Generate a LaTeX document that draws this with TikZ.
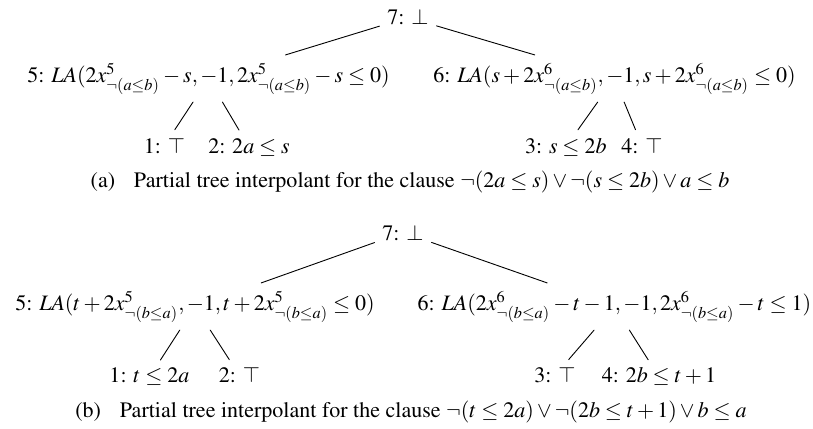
\documentclass[tikz,border=0pt]{standalone}
\usepackage[T1]{fontenc}
\usepackage{mathptmx}
\usepackage{amsmath}
\usepackage{xcolor}
\usepackage{tikz}
\usetikzlibrary{positioning}
\definecolor{tiInk}{HTML}{000000}
\tikzset{
  ti diagram/.style={font=\fontsize{9.75}{12}\selectfont, text=tiInk,
    line cap=round},
  ti node/.style={anchor=base, inner sep=3.33pt},
  ti edge/.style={draw=tiInk, line width=0.4pt},
  ti caption/.style={anchor=base, inner sep=0pt}
}
\newcommand{\tiLA}{\mathit{LA}}

\begin{document}
\begin{tikzpicture}[ti diagram]
\useasboundingbox (0,0) rectangle (12.645,6.657);
% tree (a)
\node[ti node] (a7) at (6.346,6.268) {7: $\bot$};
\node[ti node] (a5) at (3.243,5.381)
  {5: $\tiLA(2x^5_{\neg(a\leq b)}-s,-1,2x^5_{\neg(a\leq b)}-s\leq 0)$};
\node[ti node] (a6) at (9.557,5.381)
  {6: $\tiLA(s+2x^6_{\neg(a\leq b)},-1,s+2x^6_{\neg(a\leq b)}\leq 0)$};
\node[ti node] (a1) at (2.558,4.277) {1: $\top$};
\node[ti node] (a2) at (3.873,4.277) {2: $2a\leq s$};
\node[ti node] (a3) at (8.800,4.277) {3: $s\leq 2b$};
\node[ti node] (a4) at (9.985,4.277) {4: $\top$};
\foreach \p/\c in {a7/a5,a7/a6,a5/a1,a5/a2,a6/a3,a6/a4}
  \draw[ti edge] (\p) -- (\c);
\node[ti caption] (capa) at (6.377,3.733)
  {(a)\hspace{0.85em}Partial tree interpolant for the clause
   $\neg(2a\leq s)\vee\neg(s\leq 2b)\vee a\leq b$};
% tree (b)
\node[ti node] (b7) at (6.268,2.924) {7: $\bot$};
\node[ti node] (b5) at (3.033,1.835)
  {5: $\tiLA(t+2x^5_{\neg(b\leq a)},-1,t+2x^5_{\neg(b\leq a)}\leq 0)$};
\node[ti node] (b6) at (9.557,1.835)
  {6: $\tiLA(2x^6_{\neg(b\leq a)}-t-1,-1,2x^6_{\neg(b\leq a)}-t\leq 1)$};
\node[ti node] (b1) at (2.325,0.700) {1: $t\leq 2a$};
\node[ti node] (b2) at (3.725,0.700) {2: $\top$};
\node[ti node] (b3) at (8.632,0.700) {3: $\top$};
\node[ti node] (b4) at (10.249,0.700) {4: $2b\leq t+1$};
\foreach \p/\c in {b7/b5,b7/b6,b5/b1,b5/b2,b6/b3,b6/b4}
  \draw[ti edge] (\p) -- (\c);
\node[ti caption] (capb) at (6.392,0.171)
  {(b)\hspace{0.85em}Partial tree interpolant for the clause
   $\neg(t\leq 2a)\vee\neg(2b\leq t+1)\vee b\leq a$};
\end{tikzpicture}
\end{document}
